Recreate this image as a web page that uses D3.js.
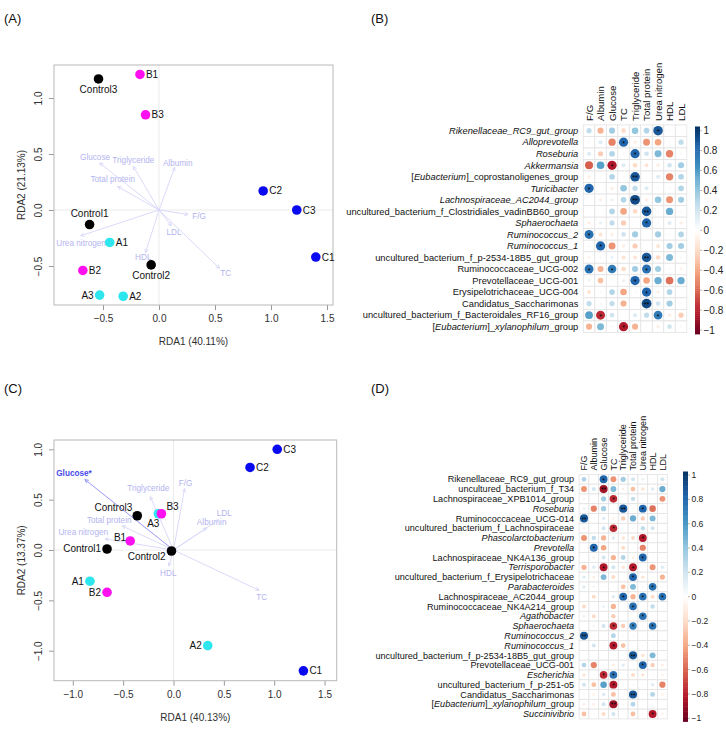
<!DOCTYPE html>
<html><head><meta charset="utf-8">
<script src="https://cdn.jsdelivr.net/npm/d3@7"></script>
<style>body{margin:0;background:#fff}svg{display:block}</style>
</head><body><script>
// ---------------- DATA ----------------
const sampleNames = ["Control1","Control2","Control3","A1","A2","A3","B1","B2","B3","C1","C2","C3"];
const sampleGroups = ["Control","Control","Control","A","A","A","B","B","B","C","C","C"];
const groupColors = {Control:"#000000", A:"#2ee6ee", B:"#ff10f0", C:"#0a0af0"};
const envNames = ["F/G","Albumin","Glucose","TC","Triglyceride","Total protein","Urea nitrogen","HDL","LDL"];

// Panel A (RDA)
const rdaA_x = [-0.62,-0.07,-0.54,-0.44,-0.32,-0.53,-0.17,-0.68,-0.12,1.40,0.93,1.23];
const rdaA_y = [-0.13,-0.49,1.17,-0.29,-0.77,-0.76,1.21,-0.54,0.85,-0.42,0.17,0.00];
const labelPosA = ["n","s","s","e","e","w","e","e","e","e","e","e"];
const envA_x = [0.26,0.14,-0.53,0.54,-0.23,-0.37,-0.70,-0.12,0.11];
const envA_y = [-0.04,0.38,0.42,-0.52,0.39,0.21,-0.23,-0.38,-0.14];
const envLabA_x = [0.357,0.167,-0.571,0.596,-0.229,-0.413,-0.696,-0.140,0.134];
const envLabA_y = [-0.054,0.417,0.476,-0.565,0.446,0.274,-0.292,-0.417,-0.199];
const envSigA = [0,0,0,0,0,0,0,0,0];
const axisTitleA = ["RDA1 (40.11%)","RDA2 (21.13%)"];
const xTicksA = [-0.5,0,0.5,1,1.5];
const yTicksA = [-0.5,0,0.5,1];

// Panel C (RDA)
const rdaC_x = [-0.66,-0.02,-0.36,-0.83,0.34,-0.15,-0.43,-0.66,-0.12,1.29,0.76,1.03];
const rdaC_y = [0.01,-0.01,0.34,-0.31,-0.95,0.36,0.09,-0.42,0.36,-1.20,0.82,1.00];
const labelPosC = ["w","sw","nw","w","w","ssw","wn","w","ne","e","e","e"];
const envC_x = [0.11,0.33,-0.88,0.85,-0.23,-0.51,-0.68,-0.045,0.45];
const envC_y = [0.61,0.22,0.70,-0.40,0.53,0.24,0.11,-0.16,0.30];
const envLabC_x = [0.121,0.379,-0.988,0.876,-0.250,-0.638,-0.896,-0.052,0.504];
const envLabC_y = [0.668,0.275,0.762,-0.470,0.619,0.298,0.182,-0.231,0.364];
const envSigC = [0,0,1,0,0,0,0,0,0];
const axisTitleC = ["RDA1 (40.13%)","RDA2 (13.37%)"];
const xTicksC = [-1,-0.5,0,0.5,1,1.5];
const yTicksC = [-1,-0.5,0,0.5,1];

// Panel B (correlation heatmap)
const rowsB = ["{Rikenellaceae_RC9_gut_group}","{Alloprevotella}","{Roseburia}","{Akkermansia}",
 "[{Eubacterium}]_coprostanoligenes_group","{Turicibacter}","{Lachnospiraceae_AC2044_group}",
 "uncultured_bacterium_f_Clostridiales_vadinBB60_group","{Sphaerochaeta}","{Ruminococcus_2}","{Ruminococcus_1}",
 "uncultured_bacterium_f_p-2534-18B5_gut_group","Ruminococcaceae_UCG-002","Prevotellaceae_UCG-001",
 "Erysipelotrichaceae_UCG-004","Candidatus_Saccharimonas","uncultured_bacterium_f_Bacteroidales_RF16_group",
 "[{Eubacterium}]_{xylanophilum}_group"];
const corrB = [
 [0.25,-0.35,0.35,-0.2,0.4,0.3,0.85,-0.05,0.02],
 [0.05,0.15,-0.5,0.8,-0.1,-0.45,-0.4,-0.05,0.25],
 [0.15,-0.25,0.3,0.05,0.8,0.2,0.45,-0.5,-0.05],
 [-0.6,0.55,-0.8,0.15,-0.2,-0.15,-0.1,0.2,0.35],
 [-0.1,0.05,0.3,-0.05,0.85,0.03,0.15,-0.5,0.3],
 [0.8,0.02,-0.1,0.4,0.25,0.15,0.05,0.05,0.3],
 [0.0,-0.1,0.1,0.3,0.9,-0.1,0.4,-0.45,0.35],
 [0.0,0.0,0.3,-0.4,-0.2,0.85,0.05,0.5,-0.05],
 [-0.1,0.1,0.25,-0.25,0.0,0.8,0.05,0.15,-0.1],
 [0.75,-0.15,-0.1,0.2,0.35,0.0,0.35,0.05,0.3],
 [0.05,0.8,-0.45,-0.1,-0.25,0.02,-0.15,0.35,0.35],
 [-0.08,0.05,0.1,-0.15,-0.15,0.85,-0.2,0.45,0.05],
 [0.75,-0.35,0.7,-0.2,0.35,0.75,0.35,0.05,-0.08],
 [0.08,-0.3,0.02,0.1,0.8,-0.4,0.5,-0.55,0.5],
 [-0.15,0.05,0.3,-0.4,-0.05,0.8,-0.1,0.3,0.0],
 [0.25,0.05,0.25,-0.35,0.0,0.9,0.2,0.35,0.05],
 [0.55,-0.75,0.2,0.0,0.15,0.25,0.7,-0.1,-0.25],
 [-0.35,0.45,0.05,-0.8,-0.35,0.0,-0.1,0.2,0.05]];
const sigB = ["000000100","000100000","000010000","001000000","000020000","100000000","000020000",
 "000002000","000001000","100000000","010000000","000002000","101001000","000010000","000001000",
 "000002000","010000100","000100000"];

// Panel D (correlation heatmap)
const rowsD = ["Rikenellaceae_RC9_gut_group","uncultured_bacterium_f_T34","Lachnospiraceae_XPB1014_group",
 "{Roseburia}","Ruminococcaceae_UCG-014","uncultured_bacterium_f_Lachnospiraceae","{Phascolarctobacterium}",
 "{Prevotella}","Lachnospiraceae_NK4A136_group","{Terrisporobacter}","uncultured_bacterium_f_Erysipelotrichaceae",
 "{Parabacteroides}","Lachnospiraceae_AC2044_group","Ruminococcaceae_NK4A214_group","{Agathobacter}",
 "{Sphaerochaeta}","{Ruminococcus_2}","{Ruminococcus_1}","uncultured_bacterium_f_p-2534-18B5_gut_group",
 "Prevotellaceae_UCG-001","{Escherichia}","uncultured_bacterium_f_p-251-o5","Candidatus_Saccharimonas",
 "[{Eubacterium}]_{xylanophilum}_group","{Succinivibrio}"];
const corrD = [
 [0.3,0.02,0.8,-0.45,0.35,0.2,0.1,0.05,0.2],
 [-0.45,0.2,-0.85,0.45,-0.1,-0.3,-0.15,0.15,0.5],
 [-0.08,0,0.35,-0.75,0.03,0.25,0,0,-0.45],
 [0.1,-0.5,0.35,0,0.85,0.05,0.8,-0.55,-0.05],
 [0.85,0.05,0.15,-0.08,-0.25,0.5,-0.25,0.45,-0.05],
 [-0.08,0,0.2,-0.75,0.03,0.05,0.25,0.2,0],
 [-0.45,0.25,-0.35,0.15,-0.15,-0.2,-0.8,0.05,0],
 [0,0.8,-0.4,0.03,-0.2,0.03,-0.5,0,0],
 [0,-0.08,0.2,-0.35,0.3,-0.1,0.8,0.05,0.05],
 [-0.35,0.15,-0.8,0.2,-0.15,-0.8,0,-0.45,0.15],
 [0.15,-0.1,0.45,-0.2,0.03,0.8,-0.15,0.05,-0.35],
 [0.15,0.08,0.03,0.02,-0.3,0.45,0.05,0.75,0.05],
 [0,-0.2,0.03,0.15,0.8,-0.35,0.75,-0.2,0.75],
 [-0.2,0.03,0.1,-0.35,0.03,0.75,0.02,0.25,0.03],
 [0.1,-0.2,0.03,-0.25,0.02,0.02,0.75,0.03,0.03],
 [0,0.08,0.2,-0.75,-0.25,0.7,0.05,0.75,0.05],
 [0.85,-0.05,0.03,0.3,0.05,0.05,0.03,0.05,0.03],
 [0,0.2,0.05,-0.8,-0.3,0,0.03,-0.05,0.02],
 [0.02,0,0.03,0.05,0.03,0.85,-0.15,0.45,0],
 [0.3,-0.5,0.05,-0.1,0.15,0.03,0.8,-0.25,-0.1],
 [-0.15,0.03,-0.75,0.75,0.03,-0.2,-0.15,0.05,-0.08],
 [0.2,-0.3,0.55,-0.8,0.03,0.05,0.03,0.15,-0.5],
 [0.05,-0.08,0.15,-0.3,0.03,0.85,0.03,0.3,-0.08],
 [-0.1,-0.1,0.2,-0.85,0.05,0.3,0.03,0.05,0.03],
 [-0.3,0.05,-0.2,0.2,0.03,-0.3,0.03,-0.8,-0.08]];
const sigD = ["001000000","002000000","000100000","000020100","200000000","000100000","000000100",
 "010000000","000000100","001001000","000001000","000000010","000010101","000001000","000000100",
 "000101010","200000000","000100000","000002000","000000100","001100000","000100000","000002000",
 "000200000","000000010"];
const colorbarTicks = [1,0.8,0.6,0.4,0.2,0,-0.2,-0.4,-0.6,-0.8,-1];
const corrStops = ["#67001F","#B2182B","#D6604D","#F4A582","#FDDBC7","#FFFFFF","#D1E5F0","#92C5DE","#4393C3","#2166AC","#053061"];
const panelLetters = ["(A)","(B)","(C)","(D)"];

// ---------------- DRAW ----------------
const FONT = "'Liberation Sans', Arial, Helvetica, sans-serif";
const svg = d3.select("body").append("svg").attr("width",726).attr("height",733)
  .style("font-family",FONT);
const fmt1 = d3.format(".1f");

function rdaPanel(cfg){
  const g = svg.append("g");
  const x = d3.scaleLinear().domain(cfg.xdom).range([cfg.left,cfg.right]);
  const y = d3.scaleLinear().domain(cfg.ydom).range([cfg.bottom,cfg.top]);
  g.append("line").attr("x1",x(0)).attr("x2",x(0)).attr("y1",cfg.top).attr("y2",cfg.bottom)
    .attr("stroke","#ebebeb").attr("stroke-width",1);
  g.append("line").attr("y1",y(0)).attr("y2",y(0)).attr("x1",cfg.left).attr("x2",cfg.right)
    .attr("stroke","#ebebeb").attr("stroke-width",1);
  const xa = g.append("g").attr("transform",`translate(0,${cfg.bottom})`)
    .call(d3.axisBottom(x).tickValues(cfg.xticks).tickFormat(fmt1).tickSize(5).tickPadding(5));
  const ya = g.append("g").attr("transform",`translate(${cfg.left},0)`)
    .call(d3.axisLeft(y).tickValues(cfg.yticks).tickFormat(fmt1).tickSize(5));
  [xa,ya].forEach(a=>{
    a.select(".domain").remove();
    a.selectAll(".tick line").attr("stroke","#9a9a9a");
    a.selectAll("text").attr("fill","#303030").style("font-size","10px").style("font-family",FONT);
  });
  ya.selectAll(".tick text").attr("x",null).attr("dy",null).attr("text-anchor","middle")
    .attr("transform","translate(-12.5,0) rotate(-90)");
  g.append("rect").attr("x",cfg.left).attr("y",cfg.top).attr("width",cfg.right-cfg.left)
    .attr("height",cfg.bottom-cfg.top).attr("fill","none").attr("stroke","#b8b8b8");
  g.append("text").attr("x",(cfg.left+cfg.right)/2).attr("y",cfg.bottom+40).attr("text-anchor","middle")
    .style("font-size","10px").attr("fill","#303030").text(cfg.titles[0]);
  g.append("text").attr("transform",`translate(${cfg.left-29},${(cfg.top+cfg.bottom)/2}) rotate(-90)`)
    .attr("text-anchor","middle").style("font-size","10px").attr("fill","#303030").text(cfg.titles[1]);
  envNames.forEach((nm,i)=>{
    const sig = cfg.envSig[i];
    const col = sig ? "#8c8cf2" : "#d6d6f8";
    const x0=x(0), y0=y(0), x1=x(cfg.ex[i]), y1=y(cfg.ey[i]);
    g.append("line").attr("x1",x0).attr("y1",y0).attr("x2",x1).attr("y2",y1)
      .attr("stroke",col).attr("stroke-width",0.9);
    const ang = Math.atan2(y1-y0,x1-x0), L=4, a=0.45;
    g.append("path").attr("d",`M${x1-L*Math.cos(ang-a)},${y1-L*Math.sin(ang-a)}L${x1},${y1}L${x1-L*Math.cos(ang+a)},${y1-L*Math.sin(ang+a)}`)
      .attr("fill","none").attr("stroke",col).attr("stroke-width",0.9);
    g.append("text").attr("x",x(cfg.lx[i])).attr("y",y(cfg.ly[i])).attr("dy","0.35em")
      .attr("text-anchor","middle").style("font-size","8.2px")
      .attr("fill", sig ? "#4a4ae6" : "#b4b4f0").attr("font-weight", sig ? "bold":null)
      .text(nm + (sig ? "*" : ""));
  });
  const off = {e:[6,3.5,"start"], w:[-6,3.5,"end"], n:[0,-8,"middle"], s:[0,14,"middle"],
    nw:[-5,-5,"end"], ne:[5,-4,"start"], sw:[-6,9,"end"], ssw:[1,13.5,"end"], wn:[-4,0,"end"]};
  sampleNames.forEach((nm,i)=>{
    g.append("circle").attr("cx",x(cfg.sx[i])).attr("cy",y(cfg.sy[i])).attr("r",4.8)
      .attr("fill",groupColors[sampleGroups[i]]);
  });
  sampleNames.forEach((nm,i)=>{
    const px=x(cfg.sx[i]), py=y(cfg.sy[i]); const o=off[cfg.lpos[i]];
    g.append("text").attr("x",px+o[0]).attr("y",py+o[1]).attr("text-anchor",o[2])
      .style("font-size","10px").attr("fill","#111").text(nm);
  });
}

function richText(sel,label){
  label.split(/(\{[^}]*\})/).filter(s=>s.length).forEach(p=>{
    const it = p[0]==="{";
    sel.append("tspan").text(it?p.slice(1,-1):p).attr("font-style",it?"italic":null);
  });
}

const corrColor = d3.scaleLinear().domain(d3.range(11).map(i=>-1+i*0.2)).range(corrStops);

function corrPanel(cfg){
  const g = svg.append("g");
  const nR = cfg.rows.length, nC = envNames.length;
  const xb = d3.scaleBand().domain(d3.range(nC)).range([cfg.left,cfg.left+nC*cfg.cw]);
  const yb = d3.scaleBand().domain(d3.range(nR)).range([cfg.top,cfg.top+nR*cfg.ch]);
  const rad = d3.scaleSqrt().domain([0,1]).range([0,0.45*Math.min(cfg.cw,cfg.ch)]);
  const cells = [];
  cfg.vals.forEach((row,r)=>row.forEach((v,c)=>cells.push({r,c,v,s:+cfg.sig[r][c]})));
  g.selectAll("rect.cell").data(cells).enter().append("rect")
    .attr("x",d=>xb(d.c)).attr("y",d=>yb(d.r)).attr("width",xb.bandwidth()).attr("height",yb.bandwidth())
    .attr("fill","#fff").attr("stroke","#e3e3e3").attr("stroke-width",0.8);
  g.selectAll("circle").data(cells).enter().append("circle")
    .attr("cx",d=>xb(d.c)+xb.bandwidth()/2).attr("cy",d=>yb(d.r)+yb.bandwidth()/2)
    .attr("r",d=>rad(Math.abs(d.v))).attr("fill",d=>corrColor(d.v));
  g.selectAll("text.star").data(cells.filter(d=>d.s>0)).enter().append("text")
    .attr("x",d=>xb(d.c)+xb.bandwidth()/2).attr("y",d=>yb(d.r)+yb.bandwidth()/2)
    .attr("dy",cfg.starFs*0.5).attr("text-anchor","middle").style("font-size",cfg.starFs+"px")
    .attr("fill","#000").text(d=>d.s===2?"**":"*");
  cfg.rows.forEach((lab,r)=>{
    const t = g.append("text").attr("x",cfg.left-5).attr("y",yb(r)+yb.bandwidth()/2).attr("dy","0.35em")
      .attr("text-anchor","end").style("font-size",cfg.rowFs+"px").attr("fill","#111");
    richText(t,lab);
  });
  envNames.forEach((nm,c)=>{
    g.append("text").attr("transform",`translate(${xb(c)+xb.bandwidth()/2+cfg.colFs*0.36},${cfg.top-4}) rotate(-90)`)
      .attr("text-anchor","start").style("font-size",cfg.colFs+"px").attr("fill","#111").text(nm);
  });
  const cb = d3.scaleLinear().domain([1,-1]).range([cfg.cbTop,cfg.cbBottom]);
  const step = 0.02;
  g.selectAll("rect.cb").data(d3.range(-1,1-1e-9,step)).enter().append("rect")
    .attr("x",cfg.cbX).attr("y",d=>cb(d+step)).attr("width",cfg.cbW).attr("height",d=>cb(d)-cb(d+step)+0.4)
    .attr("fill",d=>corrColor(d+step/2));
  const lab = d3.scaleLinear().domain([1,-1]).range([cfg.labTop,cfg.labBottom]);
  colorbarTicks.forEach(t=>{
    g.append("line").attr("x1",cfg.cbX+cfg.cbW).attr("x2",cfg.cbX+cfg.cbW+2).attr("y1",lab(t)).attr("y2",lab(t))
      .attr("stroke","#888").attr("stroke-width",0.6);
    g.append("text").attr("x",cfg.cbX+cfg.cbW+3.5).attr("y",lab(t)).attr("dy","0.35em")
      .style("font-size",cfg.cbFs+"px").attr("fill","#222")
      .text(t===0?"0":(t<0?"\u2212":"")+String(Math.abs(t)));
  });
}

rdaPanel({left:54,right:333,top:65,bottom:305,xdom:[-(159-54)/112,(333-159)/112],ydom:[(210-305)/112,(210-65)/112],
  xticks:xTicksA,yticks:yTicksA,titles:axisTitleA,sx:rdaA_x,sy:rdaA_y,lpos:labelPosA,
  ex:envA_x,ey:envA_y,lx:envLabA_x,ly:envLabA_y,envSig:envSigA});
rdaPanel({left:54,right:336.7,top:440,bottom:680.7,xdom:[-(173.5-54)/100.7,(336.7-173.5)/100.7],
  ydom:[(550-680.7)/100.7,(550-440)/100.7],
  xticks:xTicksC,yticks:yTicksC,titles:axisTitleC,sx:rdaC_x,sy:rdaC_y,lpos:labelPosC,
  ex:envC_x,ey:envC_y,lx:envLabC_x,ly:envLabC_y,envSig:envSigC});

corrPanel({rows:rowsB,vals:corrB,sig:sigB,left:583.3,top:124.9,cw:11.5,ch:11.53,rowFs:9.3,colFs:9.6,starFs:7,
  cbX:695,cbW:5,cbTop:126.5,cbBottom:334,labTop:130.7,labBottom:330,cbFs:10});
corrPanel({rows:rowsD,vals:corrD,sig:sigD,left:579.1,top:474.4,cw:9.8,ch:9.78,rowFs:9.1,colFs:9,starFs:6.5,
  cbX:683,cbW:5,cbTop:471.5,cbBottom:721.5,labTop:475,labBottom:718.3,cbFs:8.5});

[[4,23],[371,23],[4,393],[371,393]].forEach((p,i)=>{
  svg.append("text").attr("x",p[0]).attr("y",p[1]).style("font-size","13px").attr("fill","#111").text(panelLetters[i]);
});
</script></body></html>
